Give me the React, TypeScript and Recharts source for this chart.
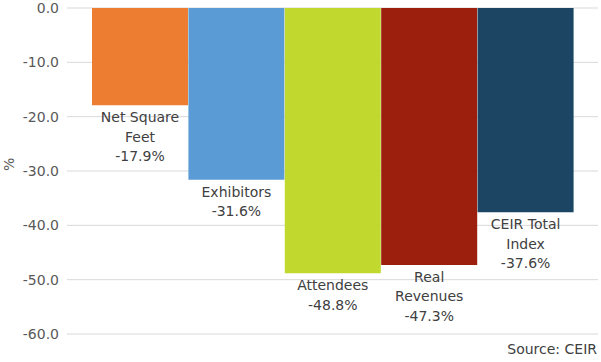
import React from 'react';
import { BarChart, Bar, XAxis, YAxis, CartesianGrid, Cell, LabelList } from 'recharts';

const categories = ['Net Square Feet', 'Exhibitors', 'Attendees', 'Real Revenues', 'CEIR Total Index'];
const labelLines = [['Net Square', 'Feet'], ['Exhibitors'], ['Attendees'], ['Real', 'Revenues'], ['CEIR Total', 'Index']];
const changes = [-17.9, -31.6, -48.8, -47.3, -37.6];
const colors = ['#ED7D31', '#5B9BD5', '#C1D82F', '#9C1F0E', '#1B4563'];
const yTicks = [0, -10, -20, -30, -40, -50, -60];

const data = categories.map((name, i) => ({ name, value: changes[i] }));

const FONT = '"DejaVu Sans", sans-serif';

const BarLabel = (props: any) => {
  const { x, y, width, height, index } = props;
  const bottom = Math.max(y, y + height);
  const cx = x + width / 2;
  const lines = [...labelLines[index], `${changes[index].toFixed(1)}%`];
  return (
    <text x={cx} y={bottom + 17} textAnchor="middle" fill="#404040" fontSize={14} fontFamily={FONT}>
      {lines.map((l, i) => (
        <tspan key={i} x={cx} dy={i === 0 ? 0 : 19.5}>{l}</tspan>
      ))}
    </text>
  );
};

export default function App() {
  return (
    <div style={{ position: 'absolute', left: 0, top: 0, width: 601, height: 362, background: '#fff' }}>
      <BarChart
        width={601}
        height={362}
        data={data}
        margin={{ top: 8, right: 3, left: 0, bottom: 28 }}
        barCategoryGap={0}
      >
        <CartesianGrid horizontal vertical={false} stroke="#d9d9d9" />
        <XAxis dataKey="name" hide padding={{ left: 25, right: 24 }} />
        <YAxis
          width={67}
          domain={[-60, 0]}
          ticks={yTicks}
          axisLine={false}
          tickLine={false}
          tickFormatter={(v: number) => v.toFixed(1)}
          tick={{ fill: '#595959', fontSize: 14, fontFamily: FONT }}
          label={{ value: '%', angle: -90, position: 'insideLeft', offset: 9, fill: '#595959', fontSize: 14, fontFamily: FONT }}
        />
        <Bar dataKey="value" isAnimationActive={false}>
          {data.map((d, i) => (
            <Cell key={d.name} fill={colors[i]} />
          ))}
          <LabelList dataKey="value" content={BarLabel} />
        </Bar>
      </BarChart>
      <div style={{ position: 'absolute', right: 4, top: 341, fontFamily: FONT, fontSize: 14, color: '#404040' }}>
        Source: CEIR
      </div>
    </div>
  );
}
